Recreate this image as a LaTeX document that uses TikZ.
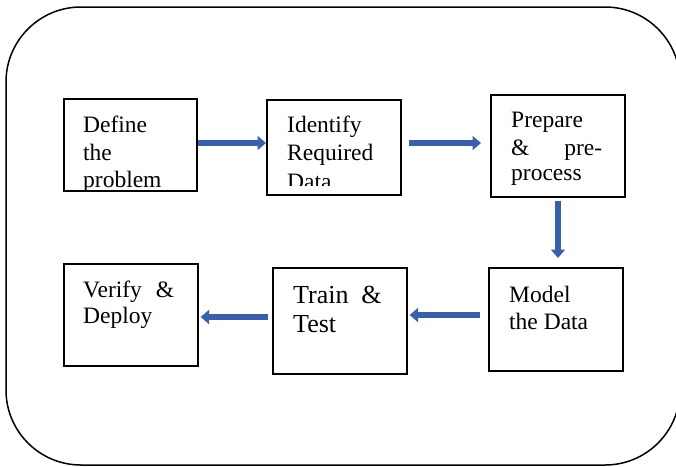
\documentclass[tikz,border=0pt]{standalone}
\usepackage{fontspec}
\setmainfont{Liberation Serif}
\newfontfamily\tnr{Liberation Serif}
\usetikzlibrary{arrows.meta}
\definecolor{arrblue}{RGB}{58,96,170}
\begin{document}
\begin{tikzpicture}[x=1pt,y=-1pt,
  box/.style={draw, line width=1.6pt, inner sep=0pt, anchor=north west},
  txt/.style={anchor=base west, inner sep=0pt, font=\tnr\fontsize{23.5}{27}\selectfont},
  big/.style={anchor=base west, inner sep=0pt, font=\tnr\fontsize{26}{30}\selectfont},
  flow/.style={draw=arrblue, line width=5.5pt, -{Triangle[length=8.5pt,width=14pt]}}]
\useasboundingbox (0,0) rectangle (676,466);
\clip (0,0) rectangle (676,466);
\draw[line width=1.5pt, rounded corners=75pt] (6,7) rectangle (680,465);
% boxes
\node[box, minimum width=133pt, minimum height=92pt]  (b1) at (63,98) {};
\node[box, minimum width=134pt, minimum height=95pt]  (b2) at (266,99) {};
\node[box, minimum width=134pt, minimum height=102pt] (b3) at (490,94) {};
\node[box, minimum width=134pt, minimum height=103pt] (b4) at (488,267) {};
\node[box, minimum width=134pt, minimum height=106pt] (b5) at (272,267) {};
\node[box, minimum width=134pt, minimum height=102pt] (b6) at (63,263) {};
% texts
\node[txt] (t1a) at (83,132) {Define};
\node[txt] (t1b) at (83,160) {the};
\node[txt] (t1c) at (83,187) {problem};
\begin{scope}
\clip (266,99) rectangle (400,185);
\node[txt] (t2a) at (287,132) {Identify};
\node[txt] (t2b) at (287,160) {Required};
\node[txt] (t2c) at (287,189) {Data};
\end{scope}
\node[txt] (t3a) at (511,127) {Prepare};
\node[txt] (t3b) at (511,155) {\hbox to 91pt{\&\hfill pre-}};
\node[txt] (t3c) at (511,180) {process};
\node[txt] (t4a) at (509,302) {Model};
\node[txt] (t4b) at (509,329) {the Data};
\node[big] (t5a) at (293,303) {\hbox to 88.5pt{Train\hfill\&}};
\node[big] (t5b) at (293,332) {Test};
\node[txt] (t6a) at (83,297) {\hbox to 91pt{Verify\hfill\&}};
\node[txt] (t6b) at (83,323) {Deploy};
% arrow rows
\coordinate (r1) at (0,143);
\coordinate (r2) at (0,143);
\coordinate (c3) at (558,0);
\coordinate (r4) at (0,315);
\coordinate (r5) at (0,317);
\draw[flow] (b1.east |- r1) -- (b2.west |- r1);
\draw[flow, shorten <=7pt, shorten >=9pt] (b2.east |- r2) -- (b3.west |- r2);
\draw[flow, shorten <=3pt, shorten >=9pt] (b3.south -| c3) -- (b4.north -| c3);
\draw[flow, shorten <=8pt, shorten >=2pt] (b4.west |- r4) -- (b5.east |- r4);
\draw[flow, shorten <=4pt, shorten >=2pt] (b5.west |- r5) -- (b6.east |- r5);
\end{tikzpicture}
\end{document}
